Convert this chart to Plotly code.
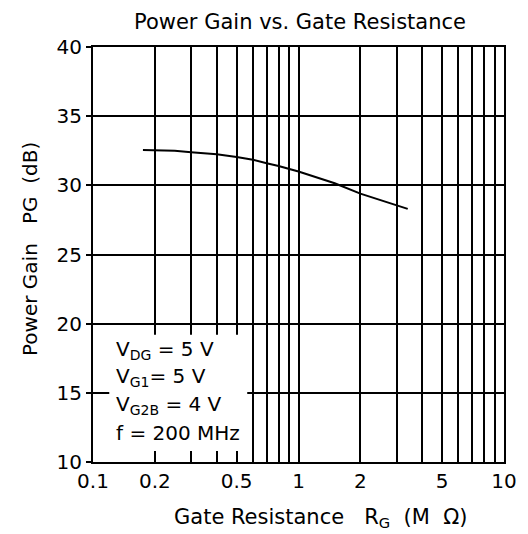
import plotly.graph_objects as go

# Data
rg = [0.175, 0.25, 0.3, 0.4, 0.5, 0.6, 0.7, 0.8, 1.0, 1.5, 2.0, 3.0, 3.4]
pg = [32.55, 32.5, 32.4, 32.25, 32.05, 31.85, 31.6, 31.4, 31.0, 30.15, 29.4, 28.6, 28.3]

x_tickvals = [0.1, 0.2, 0.3, 0.4, 0.5, 0.6, 0.7, 0.8, 0.9, 1, 2, 3, 4, 5, 6, 7, 8, 9, 10]
x_ticktext = ["0.1", "0.2", "", "", "0.5", "", "", "", "", "1", "2", "", "", "5", "", "", "", "", "10"]
y_tickvals = [10, 15, 20, 25, 30, 35, 40]

cond_lines = ["V<sub>DG</sub> = 5 V", "V<sub>G1</sub>= 5 V", "V<sub>G2B</sub> = 4 V", "f = 200 MHz"]
cond_ypx = [350, 377, 405, 433]   # page pixels

NB = "\u00a0"
title_text = "Power Gain vs. Gate Resistance"
x_title = "Gate Resistance" + NB * 3 + "R<sub>G</sub>" + NB * 2 + "(M" + NB * 2 + "Ω)"
y_title = "Power Gain" + NB * 3 + "PG" + NB * 2 + "(dB)"

FONT = "DejaVu Sans, Liberation Sans, sans-serif"
OFF = 8  # default body margin of the html page
W, H = 528 - OFF, 534 - OFF
L, R, T, B = 93 - OFF, 24, 47 - OFF, 72
ph = H - T - B
pw = W - L - R


def px_x(p):  # page px -> paper x
    return (p - 93) / pw


def px_y(p):  # page px -> paper y
    return (462 - p) / ph


fig = go.Figure()
fig.add_trace(go.Scatter(x=rg, y=pg, mode="lines",
                         line=dict(color="black", width=2), showlegend=False,
                         hoverinfo="skip"))

fig.add_shape(type="rect", xref="x", yref="y", x0=0.12, x1=0.563, y0=10.8, y1=19.2,
              fillcolor="white", line=dict(width=0), layer="between")

for t, ypx in zip(cond_lines, cond_ypx):
    fig.add_annotation(text=t, xref="paper", yref="paper",
                       x=px_x(114), y=px_y(ypx),
                       xanchor="left", yanchor="middle", showarrow=False,
                       font=dict(family=FONT, size=20, color="black"))

# axis titles placed as in the reference
fig.add_annotation(text=x_title, xref="paper", yref="paper", x=px_x(320), y=px_y(518),
                   xanchor="center", yanchor="middle", showarrow=False,
                   font=dict(family=FONT, size=21, color="black"))
fig.add_annotation(text=y_title, xref="paper", yref="paper", x=px_x(30), y=px_y(249),
                   xanchor="center", yanchor="middle", showarrow=False, textangle=-90,
                   font=dict(family=FONT, size=20, color="black"))

fig.update_layout(
    width=W, height=H,
    margin=dict(l=L, r=R, t=T, b=B, autoexpand=False),
    paper_bgcolor="white", plot_bgcolor="white",
    title=dict(text=title_text, x=(300 - OFF) / W, xanchor="center",
               y=1 - (22 - OFF) / H, yanchor="middle",
               font=dict(family=FONT, size=21, color="black")),
    font=dict(family=FONT, size=20, color="black"),
    xaxis=dict(type="log", range=[-1, 1], tickvals=x_tickvals, ticktext=x_ticktext,
               showgrid=True, gridcolor="black", gridwidth=2,
               showline=True, linecolor="black", linewidth=2, mirror=True,
               ticks="", ticklabelstandoff=0, zeroline=False, automargin=False),
    yaxis=dict(range=[10, 40], tickvals=y_tickvals,
               showgrid=True, gridcolor="black", gridwidth=2,
               showline=True, linecolor="black", linewidth=2, mirror=True,
               ticks="outside", ticklen=5, tickwidth=2, tickcolor="black",
               ticklabelstandoff=0, zeroline=False, automargin=False),
)

fig.write_html("out.html")
